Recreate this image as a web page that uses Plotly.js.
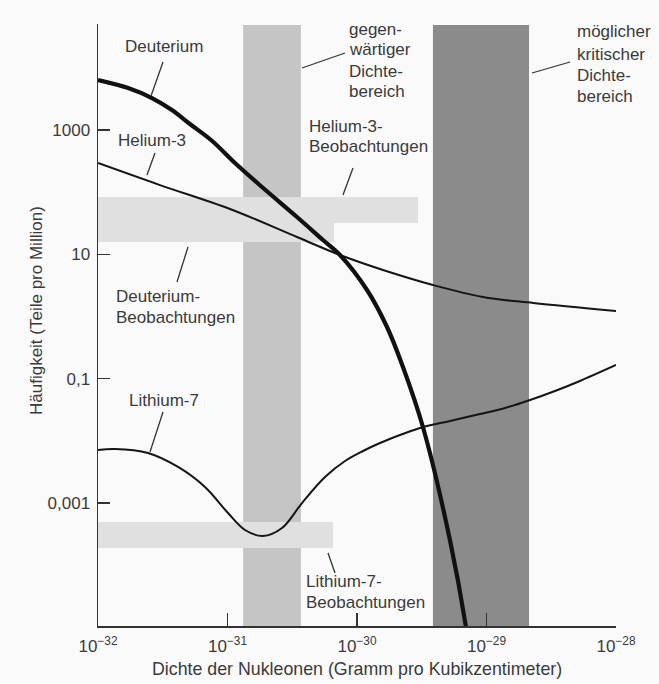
<!DOCTYPE html>
<html>
<head>
<meta charset="utf-8">
<script src="https://cdn.plot.ly/plotly-3.0.1.min.js"></script>
<style>html,body{margin:0;padding:0;background:#fafafa;}</style>
</head>
<body>
<div id="chart" style="width:659px;height:684px;"></div>
<script>
// ---- data ----
const deuteriumX = [1e-32, 1.71e-32, 2.61e-32, 3.72e-32, 5.13e-32, 7.62e-32, 1.142e-31, 1.846e-31, 3.44e-31, 5.46e-31, 7.39e-31, 1.195e-30, 1.705e-30, 2.265e-30, 3.23e-30, 5.22e-30, 6.94e-30, 7.32e-30];
const deuteriumY = [6370, 4740, 3270, 2100, 1249, 665, 294, 121, 39.9, 17.0, 9.75, 2.67, 0.678, 0.154, 0.0167, 2.54e-4, 1.01e-5, 4.33e-6];

const helium3X = [1e-32, 3.01e-32, 1.045e-31, 3.44e-31, 7.39e-31, 1.588e-30, 3.86e-30, 9.39e-30, 2.29e-29, 1e-28];
const helium3Y = [294, 130, 53.6, 19.0, 9.75, 5.60, 3.21, 2.06, 1.65, 1.23];

const lithium7X = [1e-32, 1.353e-32, 2.43e-32, 4.15e-32, 6.70e-32, 1.009e-31, 1.365e-31, 1.879e-31, 2.635e-31, 3.76e-31, 5.66e-31, 8.08e-31, 1.113e-30, 1.505e-30, 2.148e-30, 3.233e-30, 5.225e-30, 8.91e-30, 1.39e-29, 2.168e-29, 3.38e-29, 5.27e-29, 1e-28];
const lithium7Y = [7.13e-3, 7.40e-3, 6.37e-3, 3.80e-3, 1.81e-3, 6.91e-4, 3.68e-4, 2.95e-4, 3.96e-4, 1.0e-3, 2.62e-3, 4.74e-3, 6.87e-3, 9.23e-3, 0.0124, 0.0167, 0.0209, 0.0270, 0.0338, 0.0454, 0.0634, 0.0918, 0.166];

// observation / density ranges
const currentDensityRange = [1.32e-31, 3.69e-31];
const criticalDensityRange = [3.86e-30, 2.13e-29];
const deuteriumObsX = [1e-32, 6.64e-31];
const deuteriumObsY = [15.8, 83.6];
const helium3ObsX = [1e-32, 2.96e-30];
const helium3ObsY = [31.9, 83.6];
const lithium7ObsX = [1e-32, 6.53e-31];
const lithium7ObsY = [1.89e-4, 4.95e-4];

const xTickVals = [1e-32, 1e-31, 1e-30, 1e-29, 1e-28];
const xTickText = ['10<sup>−32</sup>', '10<sup>−31</sup>', '10<sup>−30</sup>', '10<sup>−29</sup>', '10<sup>−28</sup>'];
const yTickVals = [1e-3, 0.1, 10, 1000, Math.pow(10, 4.704)];
const yTickText = ['0,001', '0,1', '10', '1000', ' '];

// ---- layout helpers (pixel -> paper) ----
const L = 98, R = 616, T = 24, B = 626;
const px = x => (x - L) / (R - L);
const py = y => (B - y) / (B - T);
const txt = '#3a3a3a';
const FS = 17;
const FAM = 'Liberation Sans, Arial, sans-serif';

const annotations = [];
function label(lines, left, centers) {
  lines.forEach((s, i) => annotations.push({
    text: s, xref: 'paper', yref: 'paper', x: px(left), y: py(centers[i]),
    xanchor: 'left', yanchor: 'middle', showarrow: false,
    font: {size: FS, color: txt, family: FAM}
  }));
}
label(['Deuterium'], 123, [46]);
label(['Helium-3'], 116, [140]);
label(['Deuterium-', 'Beobachtungen'], 114, [296, 317]);
label(['Helium-3-', 'Beobachtungen'], 307, [127, 147]);
label(['gegen-', 'wärtiger', 'Dichte-', 'bereich'], 347, [29, 50, 71, 92]);
label(['möglicher', 'kritischer', 'Dichte-', 'bereich'], 575, [32, 54, 75, 96]);
label(['Lithium-7'], 127, [401]);
label(['Lithium-7-', 'Beobachtungen'], 304, [581, 602]);

// axis titles
annotations.push({
  text: 'Häufigkeit (Teile pro Million)', xref: 'paper', yref: 'paper',
  x: px(36), y: py(311), xanchor: 'center', yanchor: 'middle', textangle: -90,
  showarrow: false, font: {size: FS, color: txt, family: FAM}
});
annotations.push({
  text: 'Dichte der Nukleonen (Gramm pro Kubikzentimeter)', xref: 'paper', yref: 'paper',
  x: px(357), y: py(669), xanchor: 'center', yanchor: 'middle',
  showarrow: false, font: {size: 17.8, color: txt, family: FAM}
});

const leaders = [
  [163, 62, 151, 96],
  [155, 153, 147, 175],
  [188, 247, 177, 282],
  [353, 168, 343, 195],
  [302, 68, 345, 53],
  [532, 73, 570, 62],
  [163, 412, 150, 452],
  [328, 553, 335, 573]
];

const shapes = [
  // horizontal observation bands
  {type: 'rect', xref: 'x', yref: 'y', x0: helium3ObsX[0], x1: helium3ObsX[1], y0: helium3ObsY[0], y1: helium3ObsY[1], fillcolor: '#e0e0e0', line: {width: 0}, layer: 'below'},
  {type: 'rect', xref: 'x', yref: 'y', x0: deuteriumObsX[0], x1: deuteriumObsX[1], y0: deuteriumObsY[0], y1: deuteriumObsY[1], fillcolor: '#e0e0e0', line: {width: 0}, layer: 'below'},
  {type: 'rect', xref: 'x', yref: 'y', x0: lithium7ObsX[0], x1: lithium7ObsX[1], y0: lithium7ObsY[0], y1: lithium7ObsY[1], fillcolor: '#e0e0e0', line: {width: 0}, layer: 'below'},
  // density ranges
  {type: 'rect', xref: 'x', yref: 'paper', x0: currentDensityRange[0], x1: currentDensityRange[1], y0: 0, y1: py(25), fillcolor: 'rgba(0,0,0,0.21)', line: {width: 0}, layer: 'below'},
  {type: 'rect', xref: 'x', yref: 'paper', x0: criticalDensityRange[0], x1: criticalDensityRange[1], y0: 0, y1: py(25), fillcolor: '#8b8b8b', line: {width: 0}, layer: 'below'}
];
leaders.forEach(l => shapes.push({
  type: 'line', xref: 'paper', yref: 'paper',
  x0: px(l[0]), y0: py(l[1]), x1: px(l[2]), y1: py(l[3]),
  line: {color: '#333', width: 1.3}
}));

const traces = [
  {x: helium3X, y: helium3Y, mode: 'lines', line: {color: '#151515', width: 2, shape: 'spline', smoothing: 1}, name: 'Helium-3'},
  {x: lithium7X, y: lithium7Y, mode: 'lines', line: {color: '#151515', width: 2, shape: 'spline', smoothing: 1}, name: 'Lithium-7'},
  {x: deuteriumX, y: deuteriumY, mode: 'lines', line: {color: '#111', width: 4.2, shape: 'spline', smoothing: 1}, name: 'Deuterium'}
];

const axisFont = {size: FS, color: txt, family: FAM};
const layout = {
  width: 659, height: 684,
  margin: {l: L, r: 659 - R, t: T, b: 684 - B},
  paper_bgcolor: '#fafafa', plot_bgcolor: '#fafafa',
  showlegend: false,
  xaxis: {
    type: 'log', range: [-32, -28], showgrid: false, zeroline: false,
    showline: true, linecolor: '#333', linewidth: 1.5,
    ticks: 'inside', ticklen: 13, tickwidth: 1.3, tickcolor: '#333',
    tickmode: 'array', tickvals: xTickVals, ticktext: xTickText,
    tickfont: axisFont, ticklabelstandoff: 4
  },
  yaxis: {
    type: 'log', range: [-4.978, 4.705], showgrid: false, zeroline: false,
    showline: true, linecolor: '#333', linewidth: 1.5,
    ticks: 'inside', ticklen: 12, tickwidth: 1.3, tickcolor: '#333',
    tickmode: 'array', tickvals: yTickVals, ticktext: yTickText,
    tickfont: axisFont, ticklabelstandoff: 3
  },
  shapes: shapes,
  annotations: annotations
};

Plotly.newPlot('chart', traces, layout, {staticPlot: true, displayModeBar: false});
</script>
</body>
</html>
